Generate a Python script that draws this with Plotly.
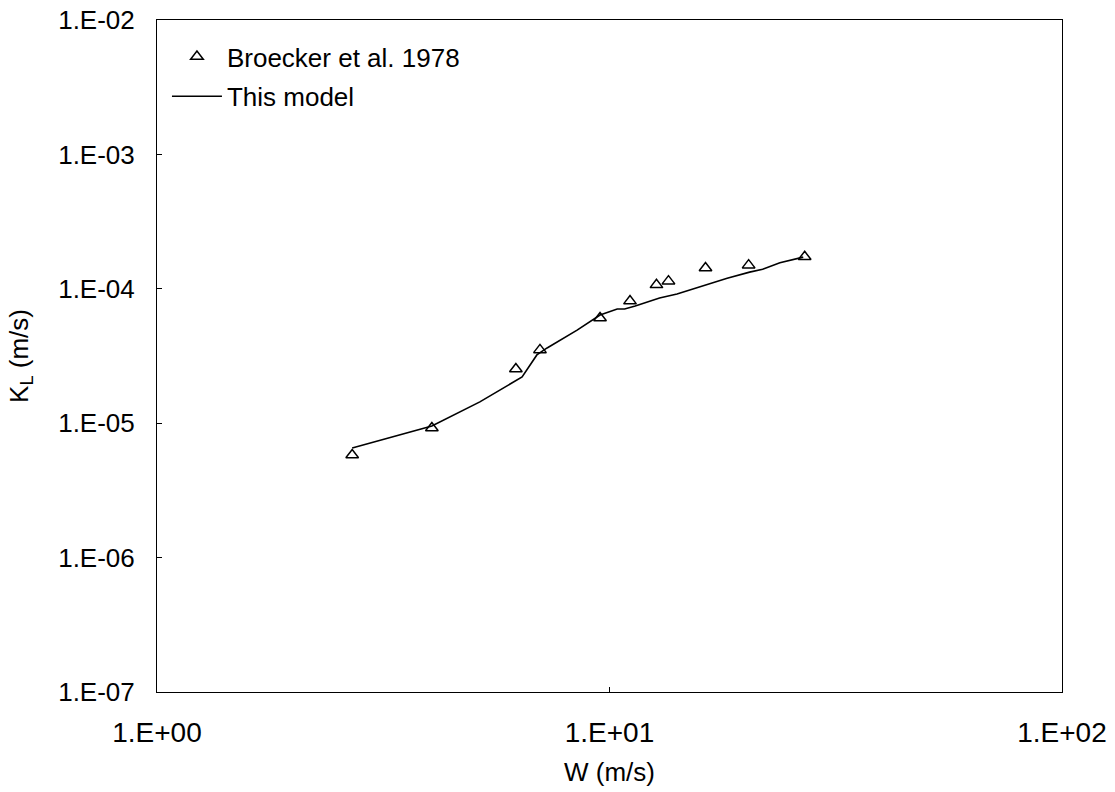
import plotly.graph_objects as go

# Broecker et al. 1978 data
obs_w = [2.70, 4.05, 6.21, 7.02, 9.53, 11.1, 12.7, 13.5, 16.3, 20.3, 27.0]
obs_k = [5.8e-6, 9.2e-6, 2.53e-5, 3.51e-5, 6.07e-5, 8.1e-5, 1.07e-4, 1.14e-4, 1.43e-4, 1.50e-4, 1.73e-4]

# This model
mod_w = [2.70, 3.27, 4.05, 5.17, 6.41, 6.91, 7.28, 8.48, 9.53, 10.4, 10.8, 11.4, 12.9,
         14.1, 14.8, 16.4, 18.2, 20.4, 21.8, 23.8, 26.8]
mod_k = [6.53e-6, 7.76e-6, 9.53e-6, 1.44e-5, 2.21e-5, 3.22e-5, 3.63e-5, 4.93e-5, 6.38e-5,
         7.08e-5, 7.08e-5, 7.45e-5, 8.55e-5, 9.14e-5, 9.63e-5, 1.07e-4, 1.20e-4, 1.33e-4,
         1.40e-4, 1.56e-4, 1.72e-4]

x_tickvals = [1, 10, 100]
x_ticktext = ["1.E+00", "1.E+01", "1.E+02"]
y_tickvals = [1e-7, 1e-6, 1e-5, 1e-4, 1e-3, 1e-2]
y_ticktext = ["1.E-07", "1.E-06", "1.E-05", "1.E-04", "1.E-03", "1.E-02"]

FONT = "Liberation Sans, Arial, sans-serif"
FS = 26

fig = go.Figure()
fig.add_trace(go.Scatter(
    x=obs_w, y=obs_k, mode="markers", name="Broecker et al. 1978",
    legendgroup="a",
    marker=dict(symbol="triangle-up-open", size=11, color="black", line=dict(width=1.5)),
))
fig.add_trace(go.Scatter(
    x=mod_w, y=mod_k, mode="lines", name="This model",
    legendgroup="b",
    line=dict(color="black", width=1.6),
))

axis_common = dict(
    showgrid=False, zeroline=False, showline=True, linecolor="black", linewidth=1,
    mirror=True, ticks="inside", ticklen=5, tickcolor="black", tickwidth=1,
    automargin=False,
)

fig.update_xaxes(
    type="log", range=[0, 2], tickvals=x_tickvals, ticktext=x_ticktext,
    tickfont=dict(family=FONT, size=28, color="black"),
    title=dict(text="W (m/s)", font=dict(family=FONT, size=FS, color="black"), standoff=16),
    ticklabelstandoff=15,
    **axis_common,
)
fig.update_yaxes(
    type="log", range=[-7, -2], tickvals=y_tickvals, ticktext=y_ticktext,
    tickfont=dict(family=FONT, size=FS, color="black"),
    title=dict(text="K<sub>L</sub> (m/s)", font=dict(family=FONT, size=FS, color="black"), standoff=22),
    ticklabelstandoff=16,
    **axis_common,
)

fig.update_layout(
    width=1115, height=792,
    margin=dict(l=157, r=53, t=20, b=100),
    paper_bgcolor="white", plot_bgcolor="white",
    font=dict(family=FONT, size=FS, color="black"),
    showlegend=True,
    legend=dict(
        x=0.011, y=0.9806, xanchor="left", yanchor="top",
        bgcolor="rgba(0,0,0,0)", borderwidth=0,
        font=dict(family=FONT, size=FS, color="black"),
        traceorder="grouped", tracegroupgap=3, itemwidth=50,
    ),
)

fig.write_html("out.html")
